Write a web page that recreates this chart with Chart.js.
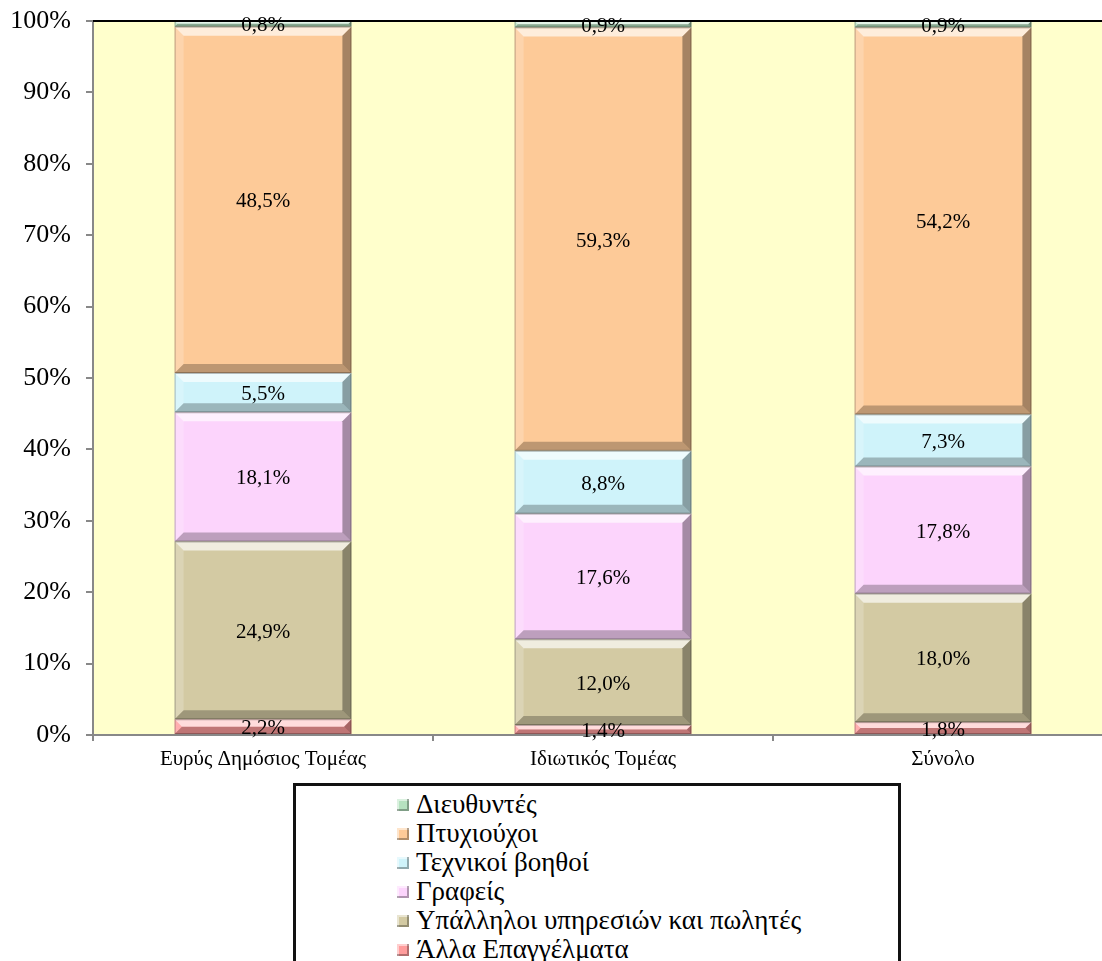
<!DOCTYPE html>
<html>
<head>
<meta charset="utf-8">
<script src="https://cdn.jsdelivr.net/npm/chart.js@4.4.1/dist/chart.umd.min.js"></script>
<style>
  html, body { margin: 0; padding: 0; background: #fff; overflow: hidden; }
  #wrap { position: relative; width: 1102px; height: 961px; overflow: hidden; }
  #box { position: absolute; left: 0; top: 0; width: 1116px; height: 961px; }
  #legend {
    position: absolute; left: 293px; top: 783px; width: 608px; height: 200px;
    border: 3px solid #111; box-sizing: border-box; background: #fff;
    font-family: "Liberation Serif", "DejaVu Serif", serif; font-size: 27px; color: #000;
  }
  #legend div { position: absolute; left: 101px; height: 30px; line-height: 30px; white-space: nowrap; }
  #legend span.m { display: inline-block; width: 12px; height: 12px; margin-right: 7px; vertical-align: 2px;
    box-shadow: inset -2px -2px 0 rgba(0,0,0,0.3), inset 2px 2px 0 rgba(255,255,255,0.5); }
</style>
</head>
<body>
<div id="wrap">
  <div id="box"><canvas id="myChart" width="1116" height="961"></canvas></div>
  <div id="legend"></div>
</div>
<script>
// κατηγορίες και τιμές (%)
var katigories = ['Ευρύς Δημόσιος Τομέας', 'Ιδιωτικός Τομέας', 'Σύνολο'];
var alla = [2.2, 1.4, 1.8];
var ypalliloi = [24.9, 12.0, 18.0];
var grafeis = [18.1, 17.6, 17.8];
var texnikoi = [5.5, 8.8, 7.3];
var ptyxiouxoi = [48.5, 59.3, 54.2];
var dieythyntes = [0.8, 0.9, 0.9];
var yTicks = [0, 10, 20, 30, 40, 50, 60, 70, 80, 90, 100];

var seira = [
    { label: 'Άλλα Επαγγέλματα', data: alla, color: '#FF9C9C' },
    { label: 'Υπάλληλοι υπηρεσιών και πωλητές', data: ypalliloi, color: '#D3CAA3' },
    { label: 'Γραφείς', data: grafeis, color: '#FCD4FC' },
    { label: 'Τεχνικοί βοηθοί', data: texnikoi, color: '#CFF3FA' },
    { label: 'Πτυχιούχοι', data: ptyxiouxoi, color: '#FDCA98' },
    { label: 'Διευθυντές', data: dieythyntes, color: '#B6E2C0' }
];

var serif = '"Liberation Serif", "DejaVu Serif", serif';

// φόντο περιοχής γραφήματος
var fondo = {
    id: 'fondo',
    beforeDraw: function (chart) {
        var a = chart.chartArea, c = chart.ctx;
        c.save();
        c.fillStyle = '#FFFFCC';
        c.fillRect(a.left, a.top, a.right - a.left, a.bottom - a.top);
        c.restore();
    },
    afterDraw: function (chart) {
        var a = chart.chartArea, c = chart.ctx;
        c.save();
        c.strokeStyle = '#000';
        c.lineWidth = 2;
        c.beginPath();
        c.moveTo(a.left, a.top);
        c.lineTo(a.right, a.top);
        c.stroke();
        c.restore();
    }
};

// ανάγλυφο και ετικέτες
var anaglyfo = {
    id: 'anaglyfo',
    afterDatasetsDraw: function (chart) {
        var c = chart.ctx;
        chart.data.datasets.forEach(function (ds, i) {
            chart.getDatasetMeta(i).data.forEach(function (bar, j) {
                var p = bar.getProps(['x', 'y', 'base', 'width'], true);
                var l = p.x - p.width / 2, r = p.x + p.width / 2;
                var t = Math.min(p.y, p.base), b = Math.max(p.y, p.base);
                var h = b - t;
                var e = Math.min(9, h / 2, p.width / 2);
                function poly(pts, fill) {
                    c.beginPath();
                    c.moveTo(pts[0][0], pts[0][1]);
                    for (var k = 1; k < pts.length; k++) c.lineTo(pts[k][0], pts[k][1]);
                    c.closePath();
                    c.fillStyle = fill;
                    c.fill();
                }
                c.save();
                poly([[l, t], [r, t], [r - e, t + e], [l + e, t + e]], 'rgba(255,255,255,0.65)');
                poly([[l, t], [l + e, t + e], [l + e, b - e], [l, b]], 'rgba(255,255,255,0.2)');
                poly([[r, t], [r, b], [r - e, b - e], [r - e, t + e]], 'rgba(0,0,0,0.35)');
                poly([[l, b], [r, b], [r - e, b - e], [l + e, b - e]], 'rgba(0,0,0,0.25)');
                c.strokeStyle = 'rgba(0,0,0,0.25)';
                c.lineWidth = 1;
                c.strokeRect(l + 0.5, t + 0.5, p.width - 1, h - 1);
                c.fillStyle = '#000';
                c.font = '21px ' + serif;
                c.textAlign = 'center';
                c.textBaseline = 'middle';
                c.fillText(ds.data[j].toFixed(1).replace('.', ',') + '%', p.x, (t + b) / 2 + 2);
                c.restore();
            });
        });
    }
};

var ctx = document.getElementById('myChart').getContext('2d');

var data = {
    labels: katigories,
    datasets: seira.map(function (s) {
        return {
            label: s.label,
            data: s.data,
            backgroundColor: s.color,
            borderWidth: 0,
            categoryPercentage: 1,
            barPercentage: 0.52
        };
    })
};

var options = {
    responsive: false,
    animation: false,
    layout: { padding: { left: 0, top: 21, right: 3, bottom: 186 } },
    plugins: { legend: { display: false }, tooltip: { enabled: false } },
    scales: {
        x: {
            stacked: true,
            grid: { drawOnChartArea: false, offset: true, tickLength: 6, color: '#888', lineWidth: 2 },
            border: { color: '#888', width: 2 },
            ticks: { color: '#000', font: { family: serif, size: 21 }, padding: 6, maxRotation: 0 },
            afterFit: function (s) { s.height = 40; }
        },
        y: {
            stacked: true,
            min: 0,
            max: 100,
            afterBuildTicks: function (s) { s.ticks = yTicks.map(function (v) { return { value: v }; }); },
            grid: { drawOnChartArea: false, tickLength: 7, color: '#888', lineWidth: 2 },
            border: { color: '#888', width: 2 },
            ticks: {
                color: '#000', font: { family: serif, size: 26 }, padding: 15,
                callback: function (v) { return v + '%'; }
            },
            afterFit: function (s) { s.width = 93; s.paddingTop = 0; s.paddingBottom = 0; }
        }
    }
};

var myChart = new Chart(ctx, {
    type: 'bar',
    data: data,
    options: options,
    plugins: [fondo, anaglyfo]
});

// υπόμνημα (αντίστροφη σειρά)
var leg = document.getElementById('legend');
seira.slice().reverse().forEach(function (s, i) {
    var d = document.createElement('div');
    d.style.top = (3 + i * 29) + 'px';
    d.innerHTML = '<span class="m" style="background:' + s.color + '"></span>' + s.label;
    leg.appendChild(d);
});
</script>
</body>
</html>
